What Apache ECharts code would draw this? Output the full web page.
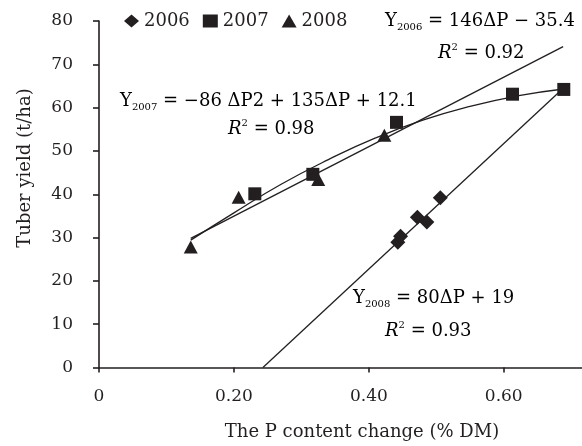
<!DOCTYPE html>
<html>
<head>
<meta charset="utf-8">
<script src="https://cdn.jsdelivr.net/npm/echarts@6/dist/echarts.min.js"></script>
<style>
  html, body { margin: 0; padding: 0; background: #fff; }
  #chart { width: 582px; height: 446px; }
</style>
</head>
<body>
<div id="chart"></div>
<script>
// measured points, [P content change, tuber yield]
var pts2006 = [[0.443, 28.9], [0.447, 30.3], [0.472, 34.7], [0.486, 33.6], [0.506, 39.2]]
var pts2007 = [[0.231, 40.1], [0.317, 44.6], [0.441, 56.6], [0.613, 63.1], [0.689, 64.2]]
var pts2008 = [[0.136, 27.8], [0.207, 39.3], [0.325, 43.4], [0.423, 53.6]]

// fitted lines
var fit2006 = [[0.243, 0], [0.689, 64.6]]
var fit2007 = [[0.136, 29.4], [0.2, 35.7], [0.27, 42.3], [0.34, 48.0], [0.41, 53.0], [0.48, 57.1], [0.55, 60.3], [0.62, 62.7], [0.689, 64.3]]
var fit2008 = [[0.136, 29.8], [0.688, 74.1]]

var yTicks = [0, 10, 20, 30, 40, 50, 60, 70, 80]
var xTicks = ['0', '0.20', '0.40', '0.60']

var ink = '#231f20'
var serif = '"DejaVu Serif", "Liberation Serif", serif'

var rich = {
  a: { fontSize: 18, fontFamily: serif, color: ink, lineHeight: 22 },
  i: { fontSize: 18, fontFamily: serif, color: ink, lineHeight: 22, fontStyle: 'italic' },
  s: { fontSize: 10, fontFamily: serif, color: ink, lineHeight: 11, verticalAlign: 'bottom' },
  p: { fontSize: 10, fontFamily: serif, color: ink, lineHeight: 11, verticalAlign: 'top' }
}

function label(x, y, text) {
  return {
    type: 'text',
    x: x,
    y: y,
    silent: true,
    style: { text: text, rich: rich, align: 'left', verticalAlign: 'middle' }
  }
}

var chart = echarts.init(document.getElementById('chart'), null, { renderer: 'canvas' })

chart.setOption({
  animation: false,
  backgroundColor: '#fff',
  textStyle: { fontFamily: serif, color: ink },
  grid: { left: 99, right: 0, top: 21, bottom: 78.5 },
  legend: {
    data: [
      { name: '2006', icon: 'diamond' },
      { name: '2007', icon: 'rect' },
      { name: '2008', icon: 'triangle' }
    ],
    left: 119,
    top: 7,
    itemWidth: 15,
    itemHeight: 13,
    itemGap: 13,
    textStyle: { fontSize: 18, fontFamily: serif, color: ink }
  },
  xAxis: {
    type: 'value',
    min: 0,
    max: 0.716,
    interval: 0.2,
    splitLine: { show: false },
    axisLine: { onZero: false, lineStyle: { color: ink, width: 1.6 } },
    axisTick: { length: 5, lineStyle: { color: ink, width: 1.6 } },
    axisLabel: {
      margin: 21,
      fontSize: 17,
      fontFamily: serif,
      color: ink,
      showMaxLabel: false,
      formatter: function (v) {
        var i = Math.round(v / 0.2)
        return Math.abs(v - i * 0.2) < 1e-6 && xTicks[i] !== undefined ? xTicks[i] : ''
      }
    }
  },
  yAxis: {
    type: 'value',
    min: yTicks[0],
    max: yTicks[yTicks.length - 1],
    interval: 10,
    splitLine: { show: false },
    axisLine: { lineStyle: { color: ink, width: 1.6 } },
    axisTick: { length: 6, lineStyle: { color: ink, width: 1.6 } },
    axisLabel: { margin: 26, fontSize: 17, fontFamily: serif, color: ink }
  },
  graphic: [
    label(385, 21, '{a|Y}{s|2006}{a| = 146ΔP − 35.4}'),
    label(438, 53, '{i|R}{p|2}{a| = 0.92}'),
    label(120, 101, '{a|Y}{s|2007}{a| = −86 ΔP2 + 135ΔP + 12.1}'),
    label(228, 129, '{i|R}{p|2}{a| = 0.98}'),
    label(353, 298, '{a|Y}{s|2008}{a| = 80ΔP + 19}'),
    label(385, 331, '{i|R}{p|2}{a| = 0.93}'),
    {
      type: 'text',
      x: 362,
      y: 432,
      silent: true,
      style: {
        text: 'The P content change (% DM)',
        font: '18px ' + serif,
        fill: ink,
        align: 'center',
        verticalAlign: 'middle'
      }
    },
    {
      type: 'text',
      x: 25,
      y: 168,
      rotation: Math.PI / 2,
      silent: true,
      style: {
        text: 'Tuber yield (t/ha)',
        font: '18px ' + serif,
        fill: ink,
        align: 'center',
        verticalAlign: 'middle'
      }
    }
  ],
  series: [
    {
      name: 'fit2006', type: 'line', data: fit2006, showSymbol: false, silent: true,
      lineStyle: { color: ink, width: 1.3 }, z: 1
    },
    {
      name: 'fit2007', type: 'line', data: fit2007, smooth: true, showSymbol: false, silent: true,
      lineStyle: { color: ink, width: 1.3 }, z: 1
    },
    {
      name: 'fit2008', type: 'line', data: fit2008, showSymbol: false, silent: true,
      lineStyle: { color: ink, width: 1.3 }, z: 1
    },
    {
      name: '2006', type: 'scatter', data: pts2006, symbol: 'diamond', symbolSize: 15,
      itemStyle: { color: ink, opacity: 1 }, z: 3
    },
    {
      name: '2007', type: 'scatter', data: pts2007, symbol: 'rect', symbolSize: 13,
      itemStyle: { color: ink, opacity: 1 }, z: 3
    },
    {
      name: '2008', type: 'scatter', data: pts2008, symbol: 'triangle', symbolSize: [14, 13],
      itemStyle: { color: ink, opacity: 1 }, z: 3
    }
  ]
})
</script>
</body>
</html>
